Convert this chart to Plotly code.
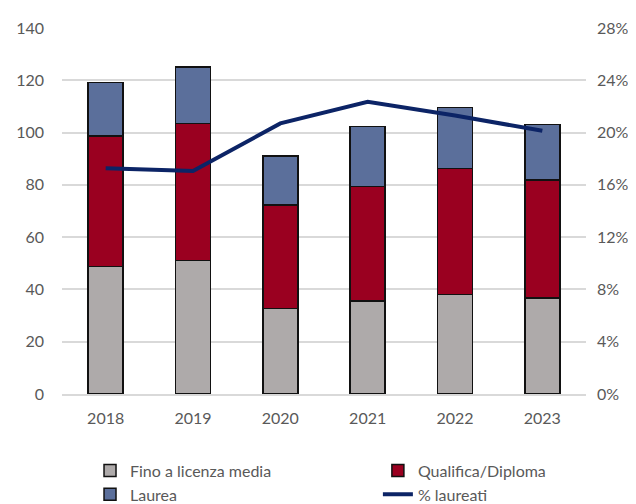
import plotly.graph_objects as go

years = ["2018", "2019", "2020", "2021", "2022", "2023"]
fino_licenza = [48.7, 51.1, 32.8, 35.5, 38.1, 36.8]
qualifica_diploma = [49.9, 52.4, 39.5, 43.8, 48.1, 45.1]
laurea = [20.5, 21.5, 18.7, 23.0, 23.3, 21.1]
pct_laureati = [0.1727, 0.1706, 0.2070, 0.2236, 0.2130, 0.2014]

FONT = "Lato, Carlito, Calibri, sans-serif"
TICK_GREY = "#595959"
GRID = "#D9D9D9"

fig = go.Figure()
bar_style = dict(marker_line_color="#111111", marker_line_width=1.5)
fig.add_trace(go.Bar(name="Fino a licenza media", x=years, y=fino_licenza,
                     marker_color="#AEAAAA", legend="legend", **bar_style))
fig.add_trace(go.Bar(name="Qualifica/Diploma", x=years, y=qualifica_diploma,
                     marker_color="#9A0020", legend="legend2", **bar_style))
fig.add_trace(go.Bar(name="Laurea", x=years, y=laurea,
                     marker_color="#5B6F9B", legend="legend", **bar_style))
fig.add_trace(go.Scatter(name="% laureati", x=years, y=pct_laureati, yaxis="y2",
                         mode="lines", line=dict(color="#0C2466", width=4),
                         legend="legend2"))

legend_style = dict(orientation="v", xref="container", y=-0.163,
                    xanchor="left", yanchor="top", traceorder="normal",
                    font=dict(size=16, color=TICK_GREY))

# page body has an 8px margin, so the figure is sized to the visible area
fig.update_layout(
    width=628, height=496,
    barmode="stack", bargap=0.6,
    margin=dict(l=54, r=50, t=20, b=110, autoexpand=False),
    plot_bgcolor="white", paper_bgcolor="white",
    font=dict(family=FONT, size=16, color=TICK_GREY),
    xaxis=dict(showgrid=False, showline=True, linecolor=GRID, linewidth=1.5,
               ticks="", ticklabelstandoff=9,
               tickfont=dict(size=16, color=TICK_GREY)),
    yaxis=dict(range=[0, 140], dtick=20, gridcolor=GRID, gridwidth=1.5,
               zeroline=False, ticks="", ticklabelstandoff=17,
               tickfont=dict(size=16, color=TICK_GREY)),
    yaxis2=dict(range=[0, 0.28], dtick=0.04, tickformat=".0%", overlaying="y",
                side="right", showgrid=False, zeroline=False, ticks="",
                ticklabelstandoff=10, tickfont=dict(size=16, color=TICK_GREY)),
    legend=dict(x=0.1306, **legend_style),
    legend2=dict(x=0.589, **legend_style),
)

fig.write_html("out.html")
